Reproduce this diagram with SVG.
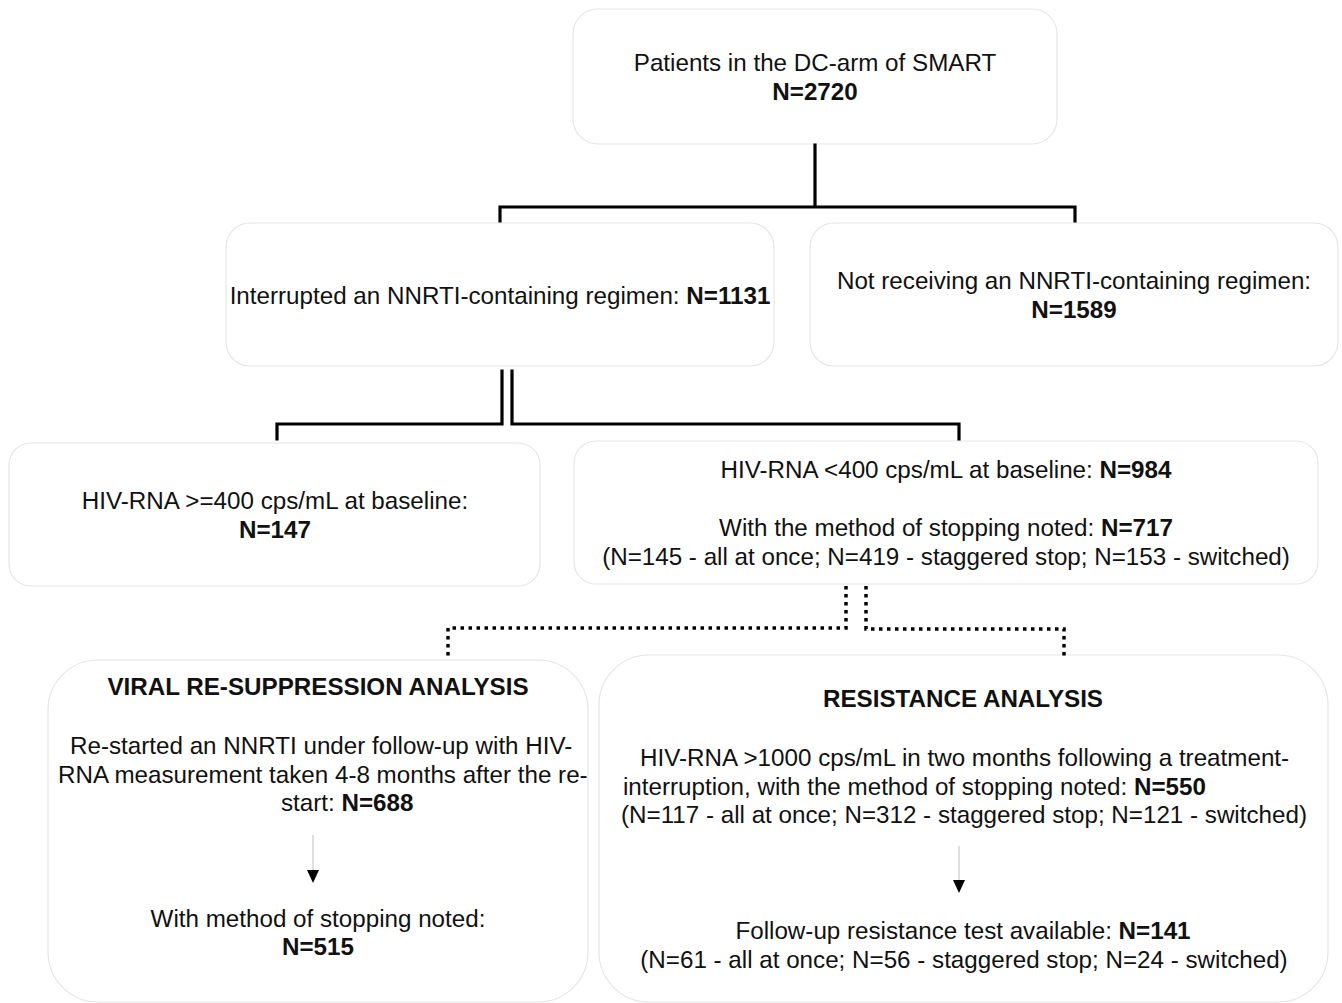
<svg xmlns="http://www.w3.org/2000/svg" xmlns:xlink="http://www.w3.org/1999/xlink" width="1342" height="1003" viewBox="0 0 1342 1003">
<style>
.box{fill:#ffffff;stroke:#e6e6e6;stroke-width:1.2}
.t{font-family:"Liberation Sans",Arial,sans-serif;font-size:24.2px;fill:#111}
.c{text-anchor:middle}
.b{font-weight:bold}
.solid{fill:none;stroke:#000;stroke-width:3.2;stroke-linecap:square}
.dot{fill:none;stroke:#000;stroke-width:3.5;stroke-dasharray:3.5 4.5}
.shaft{fill:none;stroke:#d0d0d0;stroke-width:1.3}
</style>
<defs>
<path id="ah" d="M-6,0 L6,0 L0,13 z" fill="#000"/>
</defs>
<rect width="1342" height="1003" fill="#fff"/>
<g id="n-smart">
<rect class="box" x="573" y="9" width="484" height="135" rx="25"/>
<text class="t c" x="815" y="71">Patients in the DC-arm of SMART</text>
<text class="t c b" x="815" y="100">N=2720</text>
</g>
<g id="n-nnrti">
<rect class="box" x="226" y="223" width="548" height="143" rx="24"/>
<text class="t c" x="500" y="304">Interrupted an NNRTI-containing regimen: <tspan class="b">N=1131</tspan></text>
</g>
<g id="n-not-nnrti">
<rect class="box" x="810" y="223" width="528" height="143" rx="24"/>
<text class="t c" x="1074" y="289">Not receiving an NNRTI-containing regimen:</text>
<text class="t c b" x="1074" y="318">N=1589</text>
</g>
<g id="n-high">
<rect class="box" x="9" y="443" width="531" height="143" rx="22"/>
<text class="t c" x="275" y="509">HIV-RNA &gt;=400 cps/mL at baseline:</text>
<text class="t c b" x="275" y="538">N=147</text>
</g>
<g id="n-low">
<rect class="box" x="574" y="441" width="744" height="143" rx="22"/>
<text class="t c" x="946" y="478">HIV-RNA &lt;400 cps/mL at baseline: <tspan class="b">N=984</tspan></text>
<text class="t c" x="946" y="536">With the method of stopping noted: <tspan class="b">N=717</tspan></text>
<text class="t c" x="946" y="565">(N=145 - all at once; N=419 - staggered stop; N=153 - switched)</text>
</g>
<g id="n-viral">
<rect class="box" x="48" y="660" width="540" height="342" rx="50"/>
<text class="t c b" x="318" y="695">VIRAL RE-SUPPRESSION ANALYSIS</text>
<text class="t" x="70" y="754">Re-started an NNRTI under follow-up with HIV-</text>
<text class="t" x="58" y="783">RNA measurement taken 4-8 months after the re-</text>
<text class="t" x="281" y="811">start: <tspan class="b">N=688</tspan></text>
<text class="t c" x="318" y="927">With method of stopping noted:</text>
<text class="t c b" x="318" y="955">N=515</text>
</g>
<g id="n-resist">
<rect class="box" x="599" y="655" width="729" height="347" rx="50"/>
<text class="t c b" x="963" y="707">RESISTANCE ANALYSIS</text>
<text class="t" x="640" y="766">HIV-RNA &gt;1000 cps/mL in two months following a treatment-</text>
<text class="t" x="623" y="795">interruption, with the method of stopping noted: <tspan class="b">N=550</tspan></text>
<text class="t c" x="964" y="823">(N=117 - all at once; N=312 - staggered stop; N=121 - switched)</text>
<text class="t c" x="963" y="939">Follow-up resistance test available: <tspan class="b">N=141</tspan></text>
<text class="t c" x="964" y="968">(N=61 - all at once; N=56 - staggered stop; N=24 - switched)</text>
</g>
<g id="connectors">
<path class="solid" d="M815,145 V207 M500,221 V207 H1075 V221"/>
<path class="solid" d="M502,371 V424 H277 V439"/>
<path class="solid" d="M512,371 V424 H959 V439"/>
<path class="dot" d="M846,586 V628 H448 V656"/>
<path class="dot" d="M866,586 V629 H1064 V656"/>
<path class="shaft" d="M313,835 V871"/>
<use xlink:href="#ah" href="#ah" x="313" y="870"/>
<path class="shaft" d="M959,846 V881"/>
<use xlink:href="#ah" href="#ah" x="959" y="880"/>
</g>
</svg>
